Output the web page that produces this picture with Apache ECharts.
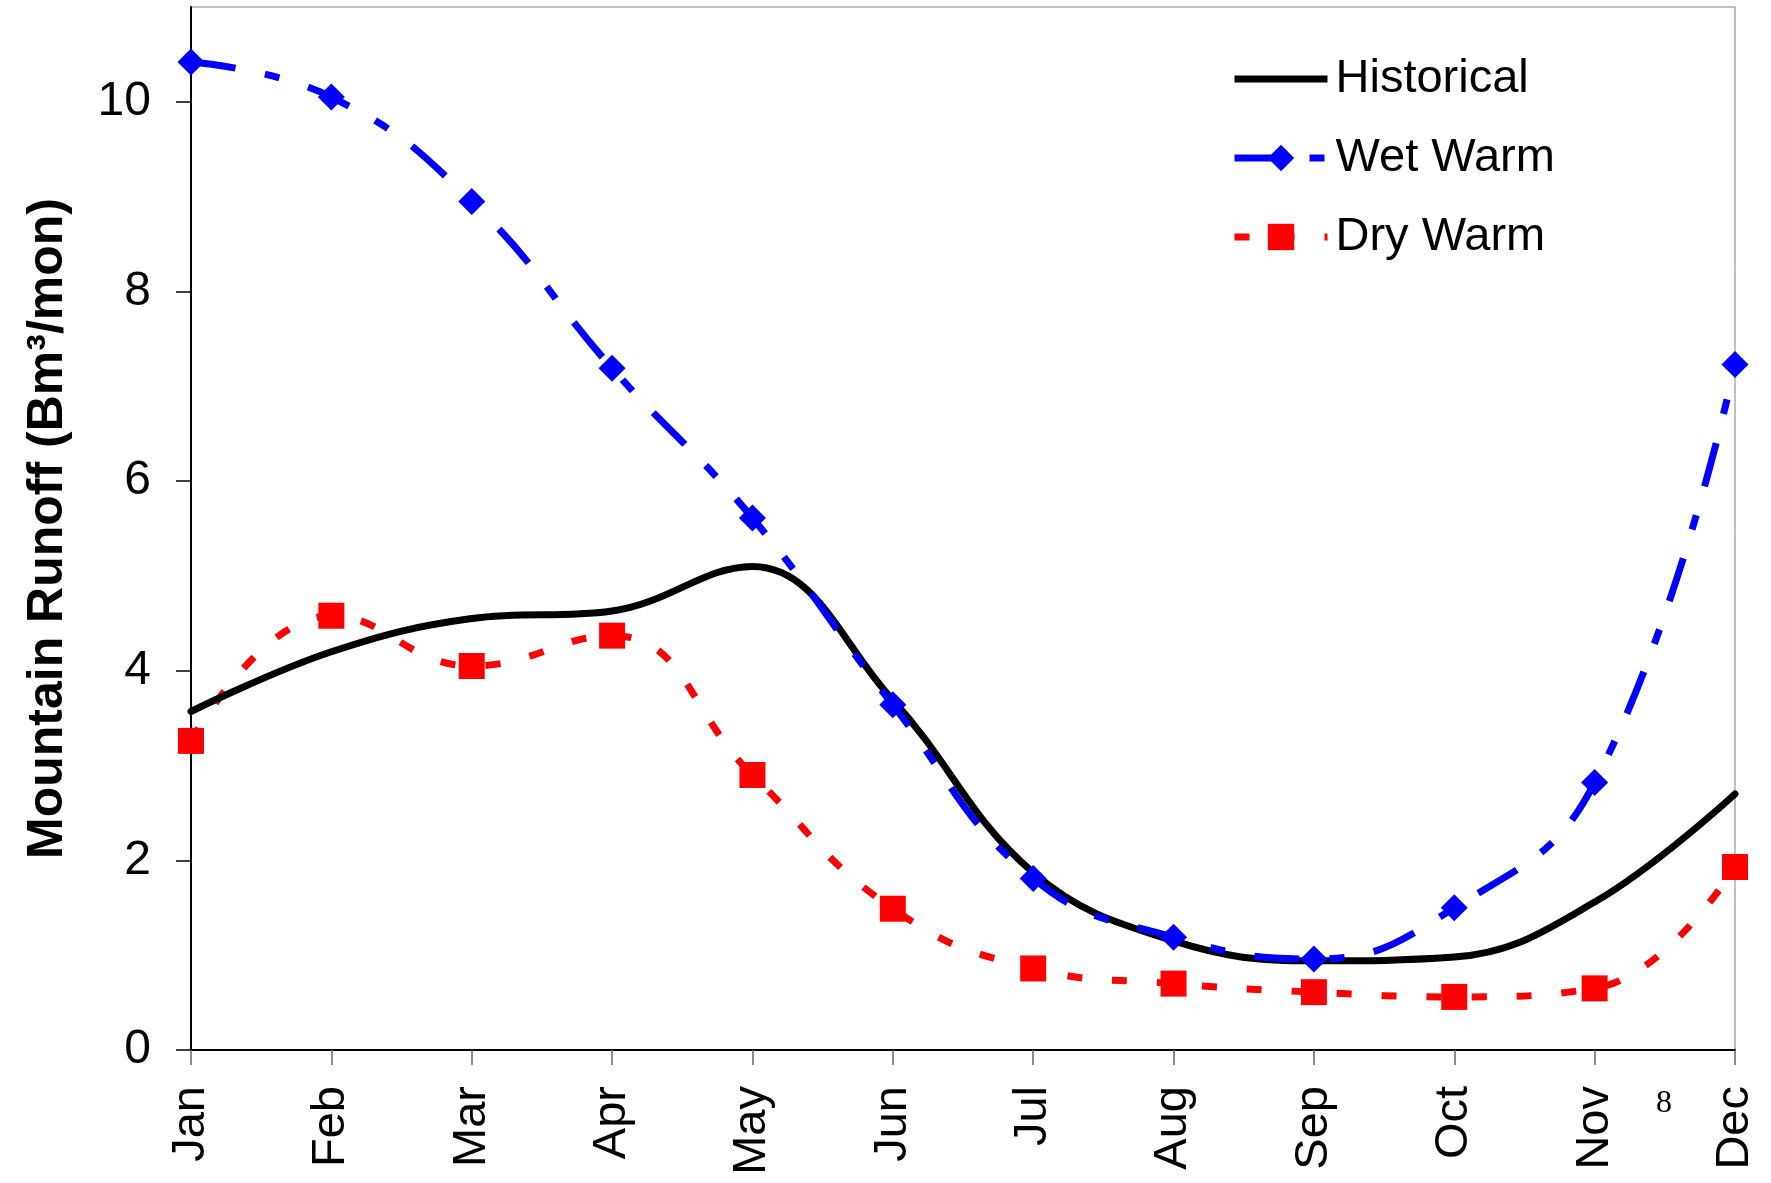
<!DOCTYPE html>
<html>
<head>
<meta charset="utf-8">
<script src="https://cdn.jsdelivr.net/npm/echarts@6/dist/echarts.min.js"></script>
<style>
    html, body {margin: 0; padding: 0; background: #fff;}
    #chart {width: 1771px; height: 1183px;}
</style>
</head>
<body>
<div id="chart"></div>
<script>
    //数据
    var months = ['Jan', 'Feb', 'Mar', 'Apr', 'May', 'Jun', 'Jul', 'Aug', 'Sep', 'Oct', 'Nov', 'Dec'];
    var historical = [3.57, 4.20, 4.55, 4.63, 5.10, 3.69, 1.87, 1.15, 0.94, 0.98, 1.56, 2.70];
    var wetWarm = [10.42, 10.05, 8.95, 7.19, 5.61, 3.64, 1.81, 1.19, 0.96, 1.50, 2.82, 7.23];
    var dryWarm = [3.26, 4.58, 4.05, 4.37, 2.90, 1.49, 0.86, 0.70, 0.61, 0.56, 0.65, 1.93];
    var yTicks = [0, 2, 4, 6, 8, 10];

    var font = "'Liberation Sans', Arial, sans-serif";

    var myChart = echarts.init(document.getElementById('chart'));
    var myOption = {
        animation: false,
        grid: {
            left: 191,
            right: 36,
            top: 7,
            bottom: 133,
            show: true,
            borderColor: '#808080',
            borderWidth: 1
        },
        legend: {
            orient: 'vertical',
            left: 1226,
            top: 48,
            itemWidth: 93,
            itemHeight: 33,
            itemGap: 27,
            lineStyle: {width: 'inherit'},
            textStyle: {
                fontFamily: font,
                fontSize: 47,
                color: '#000',
                lineHeight: 52,
                padding: [0, 0, 0, 3]
            },
            data: [
                {name: 'Historical', icon: 'path://M0,0 L93,0 L93,7 L0,7 Z'},
                'Wet Warm',
                'Dry Warm'
            ]
        },
        xAxis: {
            type: 'category',
            data: months,
            boundaryGap: false,
            axisLine: {lineStyle: {color: '#000', width: 2}},
            axisTick: {show: true, length: 15, lineStyle: {color: '#666', width: 1.5}},
            axisLabel: {
                rotate: 90,
                margin: 36,
                fontFamily: font,
                fontSize: 47,
                color: '#000'
            },
            splitLine: {show: false}
        },
        yAxis: {
            type: 'value',
            min: 0,
            max: 11,
            interval: 2,
            name: 'Mountain Runoff (Bm³/mon)',
            nameLocation: 'middle',
            nameGap: 118,
            nameTextStyle: {
                fontFamily: font,
                fontSize: 50,
                fontWeight: 'bold',
                color: '#000'
            },
            axisLine: {show: true, lineStyle: {color: '#000', width: 2}},
            axisTick: {show: true, length: 15, customValues: yTicks, lineStyle: {color: '#000', width: 1.5}},
            axisLabel: {
                margin: 40,
                customValues: yTicks,
                fontFamily: font,
                fontSize: 48,
                color: '#000'
            },
            splitLine: {show: false}
        },
        series: [
            {
                name: 'Historical',
                type: 'line',
                data: historical,
                smooth: 0.4,
                symbol: 'none',
                lineStyle: {color: '#000', width: 7, cap: 'round'},
                itemStyle: {color: '#000'},
                z: 3
            },
            {
                name: 'Wet Warm',
                type: 'line',
                data: wetWarm,
                smooth: 0.45,
                symbol: 'diamond',
                symbolSize: 27,
                lineStyle: {color: '#0000ff', width: 7, type: [45, 30, 15, 30]},
                itemStyle: {color: '#0000ff'},
                z: 4
            },
            {
                name: 'Dry Warm',
                type: 'line',
                data: dryWarm,
                smooth: 0.45,
                symbol: 'rect',
                symbolSize: 26,
                lineStyle: {color: '#ff0000', width: 7, type: [15, 30]},
                itemStyle: {color: '#ff0000'},
                z: 2
            }
        ],
        graphic: [
            {
                type: 'text',
                left: 1656,
                top: 1088,
                style: {
                    text: '8',
                    font: "32px 'Liberation Serif', 'Times New Roman', serif",
                    fill: '#000'
                }
            }
        ]
    };
    myChart.setOption(myOption);
</script>
</body>
</html>
